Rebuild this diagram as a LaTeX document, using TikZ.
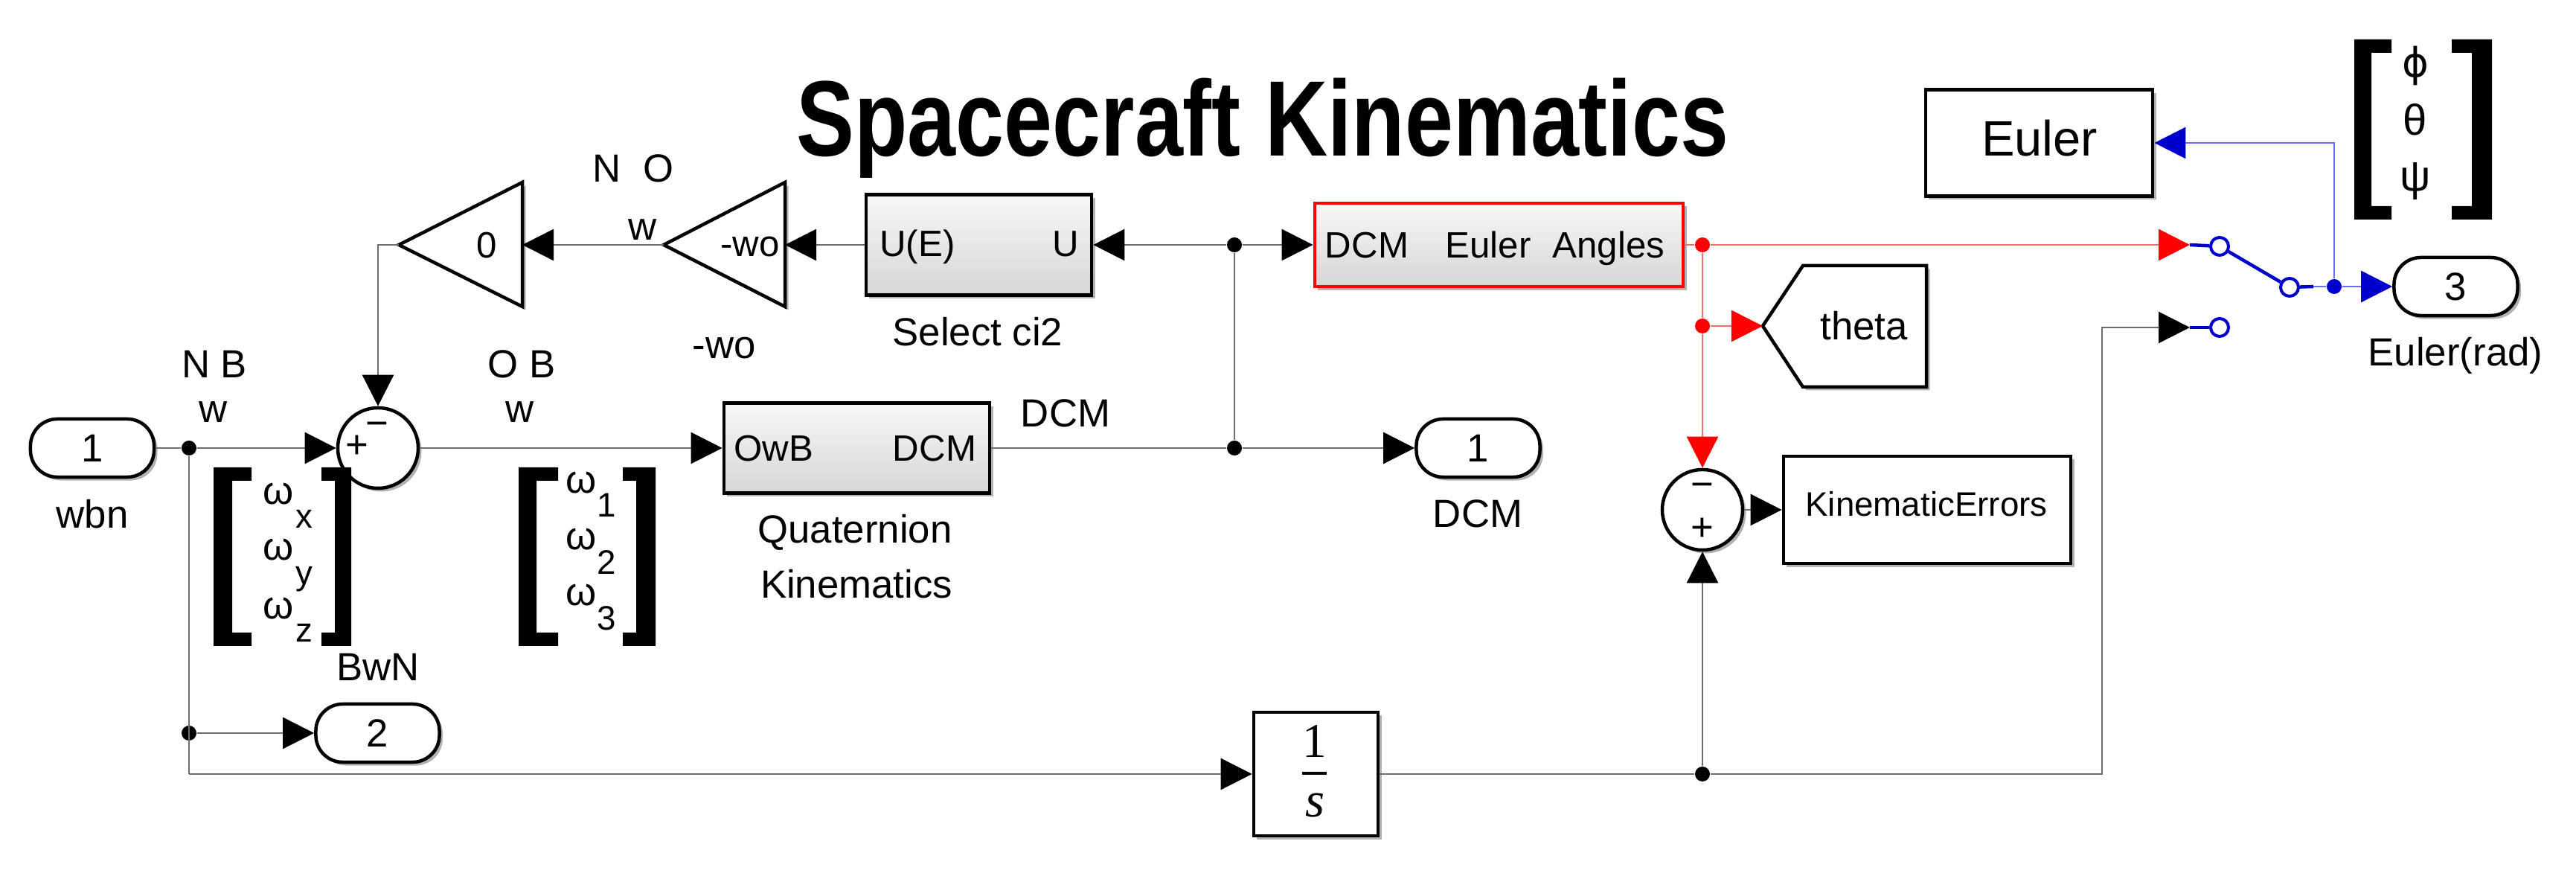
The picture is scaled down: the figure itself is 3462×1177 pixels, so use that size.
\documentclass[tikz,border=0pt]{standalone}
\usepackage{fontspec}
\setmainfont{Liberation Sans}
\newfontfamily\timesfam{Liberation Serif}
\newfontfamily\djvfam{DejaVu Sans}
\usepackage{graphicx}
\usetikzlibrary{arrows.meta,shadows,calc}
\definecolor{wiregray}{HTML}{6E6E6E}
\definecolor{wirered}{HTML}{FF6A6A}
\definecolor{tipred}{HTML}{FF0000}
\definecolor{wireblue}{HTML}{6B6BFF}
\definecolor{tipblue}{HTML}{0000CD}
\begin{document}
\begin{tikzpicture}[x=0.01cm,y=-0.01cm,
  lbl/.style={inner sep=0pt, anchor=base, font=\fontsize{15}{18}\selectfont},
  sub/.style={inner sep=0pt, anchor=base, font=\fontsize{13}{16}\selectfont},
  btxt/.style={inner sep=0pt, anchor=base, font=\fontsize{14}{17}\selectfont},
  sgn/.style={inner sep=0pt, font=\fontsize{15}{18}\selectfont},
  shad/.style={drop shadow={shadow xshift=0.045cm, shadow yshift=-0.045cm, opacity=0.3, fill=black}},
  blk/.style={draw=black, line width=0.045cm, fill=white, inner sep=0pt, shad},
  gblk/.style={blk, top color=black!3, bottom color=black!16},
  port/.style={blk, rounded corners=0.36cm, minimum width=1.66cm, minimum height=0.78cm, font=\fontsize{15}{18}\selectfont},
  sumb/.style={circle, draw=black, line width=0.045cm, fill=white, minimum size=1.08cm, inner sep=0pt, shad},
  tri/.style={draw=black, line width=0.045cm, fill=white, line join=miter, shad},
  dot/.style={circle, fill=black, minimum size=0.2cm, inner sep=0pt},
  conn/.style={draw=wiregray, line width=0.025cm},
  arr/.style={-{Triangle[length=0.42cm,width=0.42cm,color=black]}},
  rconn/.style={draw=wirered, line width=0.025cm},
  rarr/.style={-{Triangle[length=0.42cm,width=0.42cm,color=tipred]}},
  bconn/.style={draw=wireblue, line width=0.025cm},
  barr/.style={-{Triangle[length=0.42cm,width=0.42cm,color=tipblue]}},
  bthick/.style={draw=tipblue, line width=0.045cm},
  swc/.style={circle, draw=tipblue, line width=0.04cm, fill=white, minimum size=0.24cm, inner sep=0pt},
  grk/.style={inner sep=0pt, anchor=base, font=\fontsize{16.5}{20}\selectfont},
  brk/.style={fill=black}]
\fill[white] (0,0) rectangle (3462,1177);
\useasboundingbox (0,0) rectangle (3462,1177);

% title
\node[inner sep=0pt, anchor=base, font=\fontsize{41}{45}\selectfont\bfseries] (title) at (1697,210) {\scalebox{0.81}[1]{Spacecraft Kinematics}};

% inport 1
\node[port] (in1) at (124,602) {1};
\node[lbl] (wbn) at (124,710) {wbn};
\node[dot] (d1) at (254,602) {};
\node[dot] (d2) at (254,985) {};
\coordinate (cbl) at (254,1040);

% sum 1
\node[sumb] (s1) at (508,602) {};
\node[sgn] (s1p) at (480,600) {+};
\node[sgn] (s1m) at (507,577) {−};
\node[lbl] (nb) at (288,508) {N B};
\node[lbl] (nbw) at (287,568) {w};
\node[lbl] (ob) at (701,508) {O B};
\node[lbl] (obw) at (699,568) {w};

% bracket group 1
\fill[brk] (287,628) -- (338,628) -- (338,646) -- (312,646) -- (312,850) -- (338,850) -- (338,868) -- (287,868) -- cycle;
\fill[brk] (472,628) -- (432,628) -- (432,646) -- (450,646) -- (450,850) -- (432,850) -- (432,868) -- (472,868) -- cycle;
\node[lbl] (wx) at (374,678) {ω}; \node[sub] (wxs) at (409,710) {x};
\node[lbl] (wy) at (374,753) {ω}; \node[sub] (wys) at (409,786) {y};
\node[lbl] (wz) at (374,832) {ω}; \node[sub] (wzs) at (409,863) {z};

% bracket group 2
\fill[brk] (697,628) -- (750,628) -- (750,646) -- (721,646) -- (721,850) -- (750,850) -- (750,868) -- (697,868) -- cycle;
\fill[brk] (881,628) -- (837,628) -- (837,646) -- (855,646) -- (855,850) -- (837,850) -- (837,868) -- (881,868) -- cycle;
\node[lbl] (w1) at (781,663) {ω}; \node[sub] (w1s) at (815,695) {1};
\node[lbl] (w2) at (781,739) {ω}; \node[sub] (w2s) at (815,772) {2};
\node[lbl] (w3) at (781,814) {ω}; \node[sub] (w3s) at (815,847) {3};

% outport 2
\node[port] (out2) at (507.5,985) {2};
\node[lbl] (bwn) at (508,915) {BwN};

% gains
\draw[tri] (536,329) -- (702,245) -- (702,412) -- cycle;
\coordinate (g0tip) at (536,329); \coordinate (g0in) at (702,329);
\node[btxt] (g0t) at (654,347) {0};
\draw[tri] (892,329) -- (1055,245) -- (1055,412) -- cycle;
\coordinate (gwtip) at (892,329); \coordinate (gwin) at (1055,329);
\node[btxt] (gwt) at (1008,345) {-wo};
\node[lbl] (no) at (851,245) {N\ \ O};
\node[lbl] (now) at (864,323) {w};
\node[lbl] (wol) at (973,482) {-wo};

% select ci2
\node[gblk, minimum width=3.03cm, minimum height=1.35cm] (sel) at (1315.5,329) {};
\node[btxt] (selu) at (1233,345) {U(E)};
\node[btxt] (selo) at (1432,345) {U};
\node[lbl] (sell) at (1314,465) {Select ci2};

\node[dot] (d3) at (1659,329) {};
\node[dot] (d4) at (1659,602) {};

% quaternion kinematics
\node[gblk, minimum width=3.57cm, minimum height=1.21cm] (quat) at (1151.5,602) {};
\node[btxt] (qin) at (1040,620) {OwB};
\node[btxt] (qout) at (1256,620) {DCM};
\node[lbl] (qdcm) at (1432,574) {DCM};
\node[lbl] (ql1) at (1149,730) {Quaternion};
\node[lbl] (ql2) at (1151,804) {Kinematics};

% outport 1
\node[port] (out1) at (1986.5,602) {1};
\node[lbl] (o1l) at (1986,709) {DCM};

% DCM -> Euler
\node[gblk, draw=red, minimum width=4.95cm, minimum height=1.12cm] (dcme) at (2014.5,329) {};
\node[btxt] (de1) at (1837,347) {DCM};
\node[btxt] (de2) at (2000,347) {Euler};
\node[btxt] (de3) at (2162,347) {Angles};
\node[dot, fill=tipred] (r1) at (2288,329) {};
\node[dot, fill=tipred] (r2) at (2288,438) {};

% goto theta
\draw[tri] (2369,438) -- (2423,357) -- (2589,357) -- (2589,520) -- (2423,520) -- cycle;
\coordinate (thtip) at (2369,438);
\node[lbl] (tht) at (2505,457) {theta};

% sum 2
\node[sumb] (s2) at (2288,685) {};
\node[sgn] (s2m) at (2288,659) {−};
\node[sgn] (s2p) at (2288,711) {+};

% kinematic errors
\node[blk, minimum width=3.86cm, minimum height=1.44cm] (kin) at (2590,685) {};
\node[inner sep=0pt, anchor=base, font=\fontsize{13}{15}\selectfont] (kint) at (2589,694) {KinematicErrors};

% integrator
\node[blk, minimum width=1.67cm, minimum height=1.66cm] (int) at (1768.5,1040) {};
\node[inner sep=0pt, anchor=base, font=\timesfam\fontsize{18.5}{20}\selectfont] (intn) at (1767,1018) {1};
\draw[line width=0.04cm] (1750,1039) -- (1783,1039);
\node[inner sep=0pt, anchor=base, font=\timesfam\itshape\fontsize{19}{20}\selectfont] (intd) at (1767,1098) {s};
\node[dot] (d5) at (2288,1040) {};
\coordinate (cbr) at (2825,1040);
\coordinate (sw1in) at (2943,329);
\coordinate (sw2in) at (2943,440);

% switch
\node[swc] (c1) at (2983,331) {};
\node[swc] (c2) at (2983,440) {};
\node[swc] (cout) at (3077,386) {};
\coordinate (cst) at (3109,385);
\node[dot, fill=tipblue] (bdot) at (3137,385) {};

% Euler display block
\node[blk, minimum width=3.05cm, minimum height=1.43cm] (eul) at (2740.5,192) {};
\node[inner sep=0pt, anchor=base, font=\fontsize{19}{22}\selectfont] (eult) at (2741,210) {Euler};

% outport 3
\node[port] (out3) at (3300.5,385) {3};
\node[lbl] (o3l) at (3300,492) {Euler(rad)};

% phi theta psi bracket
\fill[brk] (3164,53) -- (3214,53) -- (3214,71) -- (3187,71) -- (3187,277) -- (3214,277) -- (3214,295) -- (3164,295) -- cycle;
\fill[brk] (3349,53) -- (3295,53) -- (3295,71) -- (3322,71) -- (3322,277) -- (3295,277) -- (3295,295) -- (3349,295) -- cycle;
\node[grk, font=\djvfam\fontsize{15.5}{20}\selectfont] (phi) at (3246,104) {ϕ};
\node[grk] (tha) at (3246,182) {θ};
\node[grk] (psi) at (3246,257) {ψ};

% connectors
\draw[conn] (in1.east) -- (d1);
\draw[conn,arr] (d1) -- (s1.west);
\draw[conn] (d1) -- (cbl);
\draw[conn,arr] (d2) -- (out2.west);
\draw[conn,arr] (cbl) -- (int.west);
\draw[conn,arr] (g0tip) -| (s1.north);
\draw[conn,arr] (gwtip) -- (g0in);
\draw[conn,arr] (sel.west) -- (gwin);
\draw[conn,arr] (d3) -- (sel.east);
\draw[conn,arr] (d3) -- (dcme.west);
\draw[conn] (d3) -- (d4);
\draw[conn,arr] (s1.east) -- (quat.west);
\draw[conn] (quat.east) -- (d4);
\draw[conn,arr] (d4) -- (out1.west);
\draw[rconn] (dcme.east) -- (r1);
\draw[rconn,rarr] (r1) -- (sw1in);
\draw[rconn] (r1) -- (r2);
\draw[rconn,rarr] (r2) -- (thtip);
\draw[rconn,rarr] (r2) -- (s2.north);
\draw[conn,arr] (s2.east) -- (kin.west);
\draw[conn] (int.east) -- (d5);
\draw[conn,arr] (d5) -- (s2.south);
\draw[conn,arr] (d5) -- (cbr) |- (sw2in);
\draw[bthick] (sw1in) -- (c1);
\draw[bthick] (sw2in) -- (c2);
\draw[bthick] (c1) -- (cout);
\draw[bthick] (cout) -- (cst);
\draw[bconn] (cst) -- (bdot);
\draw[bconn,barr] (bdot) -- (out3.west);
\draw[bconn,barr] (bdot) |- (eul.east);
\end{tikzpicture}
\end{document}
